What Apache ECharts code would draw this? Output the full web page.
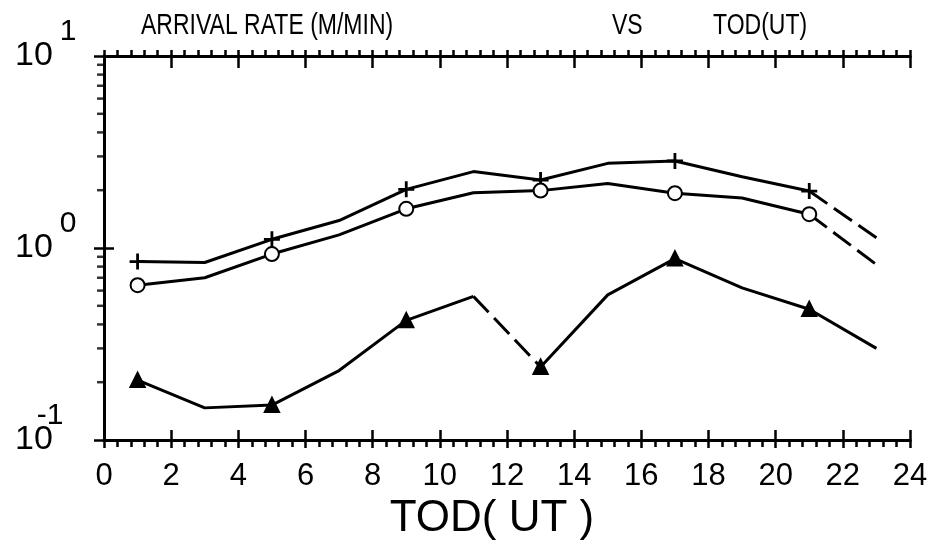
<!DOCTYPE html>
<html>
<head>
<meta charset="utf-8">
<script src="https://cdn.jsdelivr.net/npm/echarts@6/dist/echarts.min.js"></script>
<style>
  html, body { margin: 0; padding: 0; background: #fff; }
  #chart { width: 943px; height: 550px; }
</style>
</head>
<body>
<div id="chart"></div>
<script>
// hours of day (UT) where the rates were sampled
var hours = [1, 3, 5, 7, 9, 11, 13, 15, 17, 19, 21, 23];
// hours that carry a plotted symbol
var markHours = [1, 5, 9, 13, 17, 21];
// arrival rates (M/MIN)
var plusRate = [0.85, 0.84, 1.11, 1.39, 2.02, 2.5, 2.26, 2.76, 2.84, 2.35, 1.98, 1.13];
var circleRate = [0.64, 0.70, 0.93, 1.17, 1.6, 1.94, 1.99, 2.17, 1.93, 1.82, 1.5, 0.82];
var triRate = [0.205, 0.147, 0.152, 0.23, 0.42, 0.56, 0.24, 0.57, 0.88, 0.62, 0.48, 0.30];
// segments (start hour) drawn broken/dashed
var plusDash = [21];
var circleDash = [21];
var triDash = [11];
// minor ticks of the log axis
var logMinor = [0.2, 0.3, 0.4, 0.5, 0.6, 0.7, 0.8, 0.9, 2, 3, 4, 5, 6, 7, 8, 9];

var FONT = '"Liberation Sans", Arial, sans-serif';

function makeSeries(values, symbol, size, dashStarts) {
	var solid = [], dashed = [];
	hours.forEach(function (h, i) {
		var item = { value: [h, values[i]] };
		if (markHours.indexOf(h) < 0) item.symbol = 'none';
		solid.push(item);
		if (dashStarts.indexOf(h) >= 0 && i < hours.length - 1) {
			solid.push({ value: [h + 1, null], symbol: 'none' });
			dashed.push({ value: [h, values[i]] }, { value: [hours[i + 1], values[i + 1]] }, { value: [h + 1.5, null] });
		}
	});
	var base = {
		type: 'line',
		xAxisIndex: 0,
		yAxisIndex: 0,
		connectNulls: false,
		silent: true,
		z: 5
	};
	return [
		Object.assign({}, base, {
			data: solid,
			symbol: symbol,
			symbolSize: size,
			showAllSymbol: true,
			lineStyle: { color: '#000', width: 3 },
			itemStyle: { color: '#000', borderColor: '#000', borderWidth: 2.8 },
			z: 6
		}),
		Object.assign({}, base, {
			data: dashed,
			symbol: 'none',
			lineStyle: { color: '#000', width: 3, type: [22, 8] }
		})
	];
}

var xBase = {
	type: 'value',
	min: 0,
	max: 24,
	interval: 2,
	splitLine: { show: false },
	axisLine: { show: true, lineStyle: { color: '#000', width: 3 } }
};
var yBase = {
	type: 'log',
	logBase: 10,
	min: 0.1,
	max: 10,
	splitLine: { show: false },
	axisLine: { show: true, lineStyle: { color: '#000', width: 3 } }
};

var series = []
	.concat(makeSeries(plusRate, 'path://M5,0L5,10M0,5L10,5', 16, plusDash))
	.concat(makeSeries(circleRate, 'emptyCircle', 14, circleDash))
	.concat(makeSeries(triRate, 'triangle', 13, triDash));

// minor ticks on the left log axis
series.push({
	type: 'scatter',
	xAxisIndex: 0,
	yAxisIndex: 0,
	silent: true,
	clip: false,
	symbol: 'rect',
	symbolSize: [6, 2.5],
	symbolOffset: [-4, 0],
	itemStyle: { color: '#000' },
	data: logMinor.map(function (v) { return [0, v]; })
});

function titleText(text, x) {
	return {
		type: 'text',
		x: x,
		y: 11,
		scaleY: 1.3,
		silent: true,
		style: { text: text, font: '23px ' + FONT, fill: '#000', textVerticalAlign: 'top' }
	};
}

var option = {
	animation: false,
	backgroundColor: '#fff',
	graphic: [
		titleText('ARRIVAL RATE (M/MIN)', 141),
		titleText('VS', 612),
		titleText('TOD(UT)', 713)
	],
	grid: { left: 104, right: 33, top: 56, bottom: 110, outerBoundsMode: 'none', containLabel: false },
	xAxis: [
		Object.assign({}, xBase, {
			position: 'bottom',
			name: 'TOD( UT )',
			nameLocation: 'middle',
			nameGap: 56,
			nameTextStyle: { fontFamily: FONT, fontSize: 44, color: '#000', padding: [0, 30, 0, 0] },
			axisTick: { show: true, inside: false, length: 8, lineStyle: { color: '#000', width: 2.5 } },
			minorTick: { show: true, splitNumber: 5, length: 7, lineStyle: { color: '#000', width: 2.5 } },
			axisLabel: { margin: 21, fontFamily: FONT, fontSize: 31, color: '#000' }
		}),
		Object.assign({}, xBase, {
			position: 'bottom',
			axisTick: { show: true, inside: true, length: 10, lineStyle: { color: '#000', width: 2.5 } },
			axisLabel: { show: false }
		}),
		Object.assign({}, xBase, {
			position: 'top',
			axisTick: { show: true, inside: false, length: 6, lineStyle: { color: '#000', width: 2.5 } },
			minorTick: { show: true, splitNumber: 5, length: 6, lineStyle: { color: '#000', width: 2.5 } },
			axisLabel: { show: false }
		}),
		Object.assign({}, xBase, {
			position: 'top',
			axisTick: { show: true, inside: true, length: 12, lineStyle: { color: '#000', width: 2.5 } },
			axisLabel: { show: false }
		})
	],
	yAxis: [
		Object.assign({}, yBase, {
			position: 'left',
			axisTick: { show: true, inside: false, length: 9, lineStyle: { color: '#000', width: 2.5 } },
			axisLabel: {
				margin: 89,
				align: 'left',
				formatter: function (v) {
					var e = Math.round(Math.log(v) / Math.LN10);
					return '{b|10}{' + (e < 0 ? 'n' : 'e') + '|' + e + '}';
				},
				rich: {
					b: { fontFamily: FONT, fontSize: 34, color: '#000' },
					e: { fontFamily: FONT, fontSize: 30, color: '#000', padding: [0, 0, 48, 7] },
					n: { fontFamily: FONT, fontSize: 30, color: '#000', padding: [0, 0, 48, -16] }
				}
			}
		}),
		Object.assign({}, yBase, {
			position: 'left',
			axisTick: { show: true, inside: true, length: 9, lineStyle: { color: '#000', width: 2.5 } },
			axisLabel: { show: false }
		}),
		Object.assign({}, yBase, {
			position: 'right',
			axisTick: { show: true, inside: false, length: 10, lineStyle: { color: '#000', width: 2.5 } },
			axisLabel: { show: false }
		}),
		Object.assign({}, yBase, {
			position: 'right',
			axisTick: { show: true, inside: true, length: 10, lineStyle: { color: '#000', width: 2.5 } },
			axisLabel: { show: false }
		})
	],
	series: series
};

var myChart = echarts.init(document.getElementById('chart'));
myChart.setOption(option);
</script>
</body>
</html>
